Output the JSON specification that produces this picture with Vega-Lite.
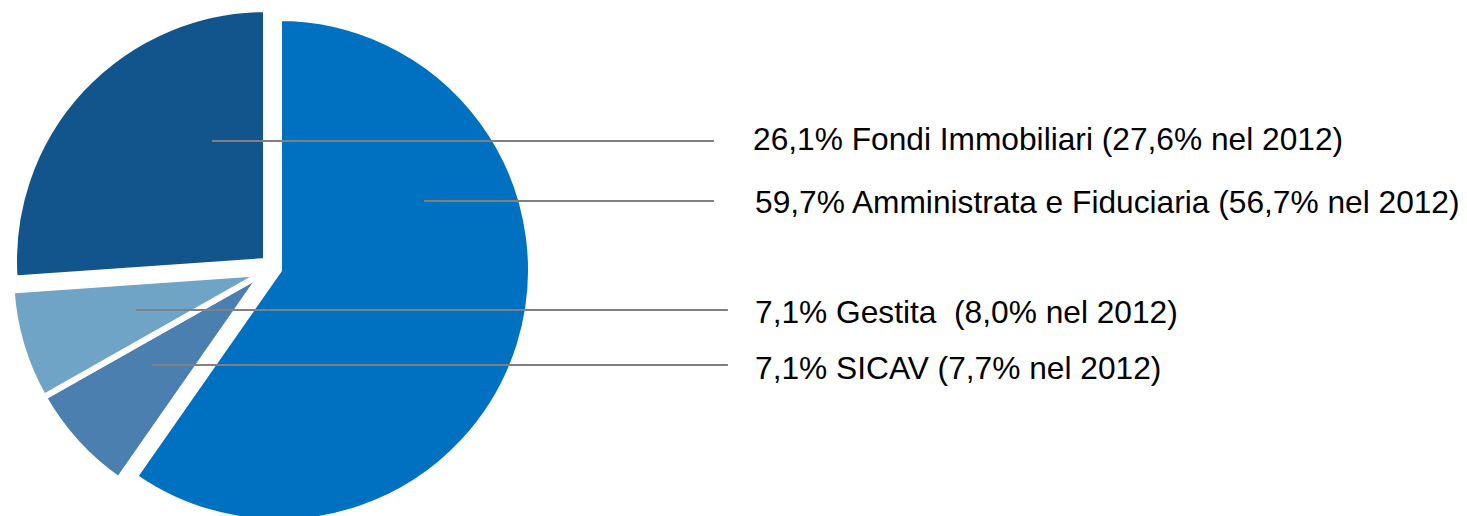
{
  "$schema": "https://vega.github.io/schema/vega-lite/v6.json",
  "width": 1467,
  "height": 516,
  "padding": 0,
  "autosize": {"type": "none"},
  "background": "white",
  "view": {"stroke": null},
  "config": {"font": "Liberation Sans"},
  "datasets": {
    "slices": [
      {"name": "Amministrata e Fiduciaria", "share": 59.7, "ord": 1},
      {"name": "SICAV", "share": 7.1, "ord": 2},
      {"name": "Gestita", "share": 7.1, "ord": 3},
      {"name": "Fondi Immobiliari", "share": 26.1, "ord": 4}
    ],
    "labels": [
      {"label": "26,1% Fondi Immobiliari (27,6% nel 2012)", "lx1": -0.205, "lx2": 1.811, "ly": 0.530, "tx": 1.968, "ty": 0.534},
      {"label": "59,7% Amministrata e Fiduciaria (56,7% nel 2012)", "lx1": 0.647, "lx2": 1.811, "ly": 0.289, "tx": 1.976, "ty": 0.281},
      {"label": "7,1% Gestita\u00a0 (8,0% nel 2012)", "lx1": -0.510, "lx2": 1.867, "ly": -0.149, "tx": 1.976, "ty": -0.161},
      {"label": "7,1% SICAV (7,7% nel 2012)", "lx1": -0.446, "lx2": 1.867, "ly": -0.369, "tx": 1.976, "ty": -0.386}
    ]
  },
  "layer": [
    {
      "data": {"name": "slices"},
      "mark": {"type": "arc", "outerRadius": 252, "stroke": "white", "strokeWidth": 6, "strokeJoin": "round"},
      "encoding": {
        "theta": {"field": "share", "type": "quantitative", "stack": true},
        "order": {"field": "ord", "type": "quantitative"},
        "x": {"datum": 0, "type": "quantitative", "scale": {"domain": [-1.0562, 4.8353], "nice": false, "zero": false}, "axis": null},
        "y": {"datum": 0, "type": "quantitative", "scale": {"domain": [-0.9759, 1.0964], "nice": false, "zero": false}, "axis": null},
        "color": {"field": "name", "type": "nominal", "legend": null,
          "scale": {"domain": ["Amministrata e Fiduciaria", "SICAV", "Gestita", "Fondi Immobiliari"], "range": ["#0070C0", "#4A7FB0", "#6FA4C6", "#12558D"]}},
        "opacity": {"condition": {"test": "datum.name === 'SICAV' || datum.name === 'Gestita'", "value": 1}, "value": 0}
      }
    },
    {
      "data": {"name": "slices"},
      "mark": {"type": "arc", "outerRadius": 252, "stroke": "white", "strokeWidth": 6, "strokeJoin": "round", "xOffset": 3, "yOffset": -12},
      "encoding": {
        "theta": {"field": "share", "type": "quantitative", "stack": true},
        "order": {"field": "ord", "type": "quantitative"},
        "x": {"datum": 0, "type": "quantitative"},
        "y": {"datum": 0, "type": "quantitative"},
        "color": {"field": "name", "type": "nominal", "legend": null},
        "opacity": {"condition": {"test": "datum.name === 'Fondi Immobiliari'", "value": 1}, "value": 0}
      }
    },
    {
      "data": {"name": "slices"},
      "mark": {"type": "arc", "outerRadius": 252, "stroke": "white", "strokeWidth": 6, "strokeJoin": "round", "xOffset": 16, "yOffset": -3},
      "encoding": {
        "theta": {"field": "share", "type": "quantitative", "stack": true},
        "order": {"field": "ord", "type": "quantitative"},
        "x": {"datum": 0, "type": "quantitative"},
        "y": {"datum": 0, "type": "quantitative"},
        "color": {"field": "name", "type": "nominal", "legend": null},
        "opacity": {"condition": {"test": "datum.name === 'Amministrata e Fiduciaria'", "value": 1}, "value": 0}
      }
    },
    {
      "data": {"name": "labels"},
      "mark": {"type": "rule", "stroke": "#808080", "strokeWidth": 2},
      "encoding": {
        "x": {"field": "lx1", "type": "quantitative"},
        "x2": {"field": "lx2"},
        "y": {"field": "ly", "type": "quantitative"}
      }
    },
    {
      "data": {"name": "labels"},
      "mark": {"type": "text", "align": "left", "baseline": "middle", "fontSize": 31.7, "font": "Liberation Sans", "color": "black"},
      "encoding": {
        "x": {"field": "tx", "type": "quantitative"},
        "y": {"field": "ty", "type": "quantitative"},
        "text": {"field": "label", "type": "nominal"}
      }
    }
  ]
}
